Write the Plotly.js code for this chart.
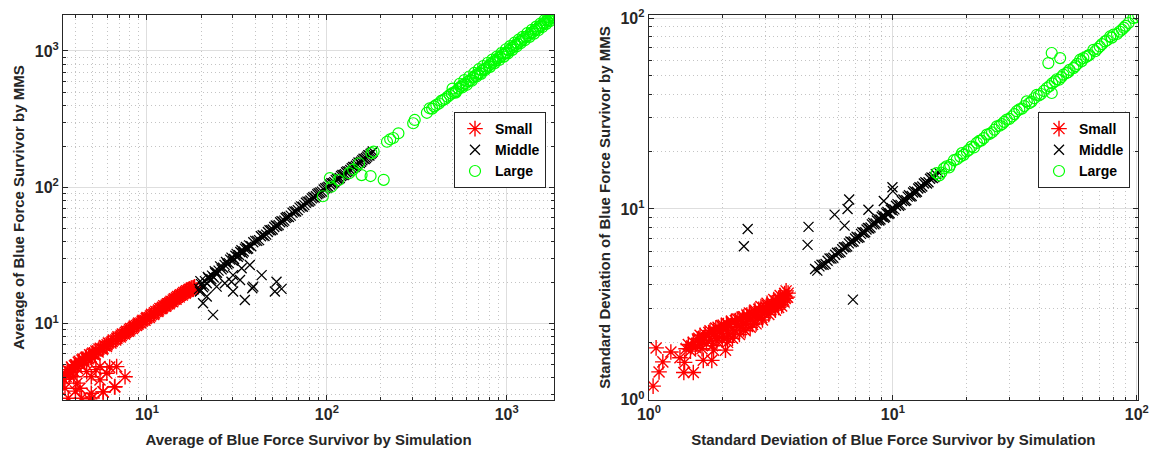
<!DOCTYPE html>
<html><head><meta charset="utf-8">
<script src="https://cdn.plot.ly/plotly-3.0.1.min.js"></script>
<style>html,body{margin:0;padding:0;background:#fff;}#chart{width:1151px;height:453px;}</style>
</head><body><div id="chart"></div>
<script>
// ---- Left panel: Average ----
const avgSmallX = [3.5,3.6,3.7,3.8,3.9,4.0,4.1,4.2,4.3,4.4,4.5,4.6,4.7,4.8,4.9,5.0,5.1,5.2,5.35,5.5,5.65,5.8,5.95,6.1,6.3,6.5,6.7,6.9,7.1,7.3,7.5,7.7,7.9,8.1,8.3,8.5,8.75,9.0,9.25,9.5,9.75,10.0,10.3,10.6,10.9,11.2,11.5,11.8,12.1,12.4,12.7,13.0,13.3,13.6,13.9,14.2,14.5,14.8,15.1,15.4,15.7,16.0,16.3,16.6,16.9,17.2,17.5,17.8,18.1,18.4,
  3.45,3.55,3.75,3.95,4.15,4.35,4.55,4.75,4.95,5.15,5.4,5.7,6.0,6.4,6.8,7.2,7.6,8.0,8.4,8.9,9.4,9.9,10.45,11.0,11.6,12.2,12.8,13.4,14.0,14.6,15.2,15.8,16.4,17.0,17.6,18.2,
  3.5,3.65,4.24,4.33,4.8,4.9,5.71,5.48,4.9,4.62,5.98,6.63,7.55,6.78,5.48,3.91,4.08,3.45,4.0,5.2,6.2,6.6,5.7,4.95];
const avgSmallY = [4.3,4.6,4.2,4.8,4.5,5.0,4.7,5.3,5.0,5.5,5.2,5.7,5.5,5.9,5.7,6.1,5.9,6.3,6.2,6.6,6.5,6.9,6.8,7.2,7.2,7.6,7.6,8.0,8.0,8.4,8.4,8.8,8.8,9.2,9.2,9.6,9.7,10.1,10.1,10.6,10.6,11.1,11.1,11.7,11.7,12.3,12.3,12.9,12.9,13.5,13.4,14.0,14.0,14.6,14.5,15.2,15.1,15.8,15.7,16.3,16.2,16.9,16.7,17.4,17.2,17.9,17.6,18.3,18.0,18.6,
  3.9,4.1,4.4,4.9,5.2,5.4,5.6,5.6,6.0,6.0,6.5,6.6,7.0,7.4,7.8,8.2,8.6,9.0,9.4,9.9,10.4,10.9,11.4,12.0,12.6,13.2,13.7,14.3,14.9,15.5,16.1,16.6,17.1,17.6,18.2,18.4,
  3.36,2.84,3.36,2.84,2.75,3.09,3.16,3.87,4.08,4.45,4.33,3.45,4.08,4.84,4.84,4.08,3.66,3.9,3.2,4.6,4.8,3.43,3.16,2.85];
const avgMiddleX = [19.5,20,20.5,21,21.5,22,22.5,23,23.5,24,25,26,27,28,29,30,31,32,33,34,35,36,37,38,40,42,44,46,48,50,52,54,56,58,60,63,66,69,72,75,78,81,84,87,90,94,98,102,106,110,114,118,122,126,130,135,140,145,150,155,160,165,170,175,180,
  19.8,20.8,21.8,22.8,23.8,24.5,25.5,26.5,27.5,28.5,29.5,30.5,31.5,32.5,33.5,34.5,35.5,36.5,39,41,43,45,47,49,51,53,55,57,59,61.5,64.5,67.5,70.5,73.5,76.5,79.5,82.5,85.5,88.5,92,96,100,104,108,112,116,120,124,128,132.5,137.5,142.5,147.5,152.5,157.5,162.5,167.5,172.5,177.5,
  23.3,20.5,21.5,19.7,24.4,30.1,29.5,30.1,33.6,37.3,35,39,38.5,43.4,52.5,51.4,56,32.9,27.1];
const avgMiddleY = [18.0,19.5,18.5,20.5,19.8,21.5,20.8,22.5,21.8,23.5,24.5,25.0,27.0,27.2,29.5,29.0,31.5,31.0,33.5,33.0,35.5,35.2,37.5,37.0,40.5,41.0,44.5,45.0,48.5,49.0,52.5,52.8,56.5,57.0,60.5,62.0,66.5,68.0,72.5,74.0,78.5,80.0,84.5,86.0,90.5,93.0,98.5,101,107,109,115,117,123,125,131,134,141,144,152,154,162,164,172,176,183,
  20.5,19.0,22.0,21.2,24.2,23.6,26.3,25.7,28.3,27.8,30.5,29.8,32.5,31.8,34.5,33.8,36.5,35.6,39.5,40.5,43.8,44.0,47.0,48.5,51.2,52.0,55.5,55.8,59.5,60.5,65.0,66.5,71.0,72.0,77.0,78.5,83.0,84.0,89.0,91.5,96.5,99.5,105,107,113,115,121,123,129,131,138,141,148,151,158,161,168,171,179,
  11.6,14.1,15.8,17.2,18.7,17.2,20.3,22.7,25.5,26.9,14.9,18.7,18.2,22.7,20.3,17.2,18.0,20.9,19.8];
const avgLargeX = [95,104,106,116,133,140,151,177,182,216,225,234,250,302,308,360,373,385,395,406,420,432,443,455,470,482,495,510,525,540,555,572,590,610,631,650,670,690,710,730,750,771,795,820,845,870,895,920,950,980,1000,1030,1060,1090,1120,1150,1180,1210,1240,1280,1320,1360,1400,1440,1480,1520,1560,1600,1640,1680,1720,1760,1800,1840,
  500,520,548,565,582,600,620,640,660,680,700,720,740,760,785,808,832,858,882,908,935,965,990,1015,1045,1075,1105,1135,1165,1195,1225,1260,1300,1340,1380,1420,1460,1500,1540,1580,1620,1660,1700,1740,1780,1820,1850,
  156,175,207];
const avgLargeY = [86,117,101,113,127,135,150,178,183,216,225,230,249,295,312,352,380,378,392,402,412,430,437,445,462,476,488,498,508,530,548,564,578,600,612,640,660,680,690,720,738,748,780,805,835,850,885,900,940,965,975,1010,1050,1070,1109,1130,1170,1190,1230,1270,1300,1350,1380,1430,1460,1510,1540,1590,1620,1670,1700,1750,1790,1860,
  530,495,575,540,612,565,650,605,690,650,735,680,775,725,820,765,865,815,910,860,965,910,1030,960,1085,1020,1150,1080,1210,1140,1270,1200,1350,1270,1430,1340,1510,1420,1590,1500,1680,1580,1760,1660,1830,1760,1860,
  123,121,113.5];

// ---- Right panel: Standard deviation ----
const sdSmallX = [1.42,1.45,1.48,1.52,1.55,1.58,1.62,1.62,1.66,1.70,1.72,1.75,1.78,1.80,1.85,1.88,1.90,1.95,1.98,2.00,2.05,2.08,2.10,2.12,2.15,2.18,2.20,2.25,2.28,2.30,2.35,2.38,2.40,2.45,2.48,2.50,2.55,2.58,2.60,2.65,2.70,2.72,2.75,2.80,2.85,2.88,2.92,2.98,3.02,3.05,3.10,3.15,3.20,3.25,3.30,3.35,3.40,3.45,3.50,3.55,3.60,3.65,3.70,3.72,3.58,3.40,
  1.5,1.6,1.68,1.76,1.84,1.92,2.02,2.1,2.18,2.26,2.34,2.42,2.52,2.62,2.72,2.82,2.94,3.06,3.18,3.3,3.45,3.6,1.65,1.82,2.0,2.22,2.44,2.66,2.9,3.14,3.38,3.62,
  1.04,1.07,1.10,1.14,1.23,1.34,1.40,1.39,1.52,1.67,1.81,1.84,2.06,1.90,2.09];
const sdSmallY = [1.85,1.95,1.80,2.00,1.88,2.08,1.95,2.18,2.05,2.22,1.98,2.15,2.30,2.05,2.22,2.38,2.10,2.30,2.45,2.15,2.35,2.52,2.00,2.22,2.42,2.58,2.10,2.30,2.50,2.65,2.20,2.40,2.58,2.72,2.30,2.50,2.68,2.85,2.40,2.60,2.78,2.95,2.50,2.70,2.90,3.08,2.62,2.85,3.05,3.20,2.80,3.00,3.22,3.35,2.95,3.15,3.40,3.52,3.10,3.35,3.60,3.72,3.45,3.62,3.25,3.05,
  1.92,2.1,2.12,2.25,2.3,2.4,2.45,2.48,2.55,2.6,2.65,2.7,2.78,2.82,2.88,2.98,3.02,3.12,3.18,3.28,3.35,3.5,1.85,1.92,2.05,2.2,2.35,2.48,2.7,2.9,3.15,3.4,
  1.18,1.87,1.40,1.58,1.78,1.66,1.57,1.39,1.39,1.61,1.61,1.82,1.82,2.03,2.11];
const sdMiddleX = [4.8,5.0,5.2,5.4,5.6,5.8,6.0,6.2,6.4,6.6,6.8,7.0,7.2,7.4,7.6,7.8,8.0,8.2,8.4,8.6,8.8,9.0,9.2,9.4,9.6,9.8,10.0,10.3,10.6,10.9,11.2,11.5,11.8,12.1,12.4,12.7,13.0,13.4,13.8,14.2,14.6,15.0,15.5,
  4.9,5.1,5.3,5.5,5.7,5.9,6.1,6.3,6.5,6.7,6.9,7.1,7.3,7.5,7.7,7.9,8.1,8.3,8.5,8.7,8.9,9.1,9.3,9.5,9.7,9.9,10.15,10.45,10.75,11.05,11.35,11.65,11.95,12.25,12.55,12.85,13.2,13.6,14.0,14.4,14.8,
  2.54,2.45,4.51,4.47,5.77,6.34,6.62,6.52,7.94,9.18,9.96,10.0,6.86];
const sdMiddleY = [4.85,5.0,5.1,5.35,5.5,5.75,5.9,6.15,6.3,6.6,6.7,7.0,7.05,7.4,7.5,7.8,7.9,8.3,8.3,8.7,8.7,9.1,9.0,9.5,9.4,9.9,9.8,10.4,10.4,11.0,11.0,11.6,11.6,12.2,12.2,12.8,12.9,13.6,13.6,14.4,14.5,15.2,15.4,
  4.75,5.1,5.15,5.5,5.55,5.9,5.95,6.3,6.35,6.75,6.75,7.15,7.1,7.55,7.55,7.95,8.0,8.45,8.4,8.85,8.8,9.25,9.1,9.65,9.5,10.1,9.95,10.6,10.5,11.2,11.1,11.8,11.7,12.4,12.3,13.0,13.1,13.8,13.8,14.6,14.7,
  7.85,6.37,8.05,6.48,9.34,8.18,11.2,10.0,9.9,11.0,13.0,12.4,3.35];
const sdLargeX = [15.1,15.8,16.6,17.2,17.8,18.9,19.5,20.1,21.0,22.1,23.0,24.3,25.5,26.7,28.0,29.3,30.8,32.2,33.8,35.4,37.0,38.9,40.5,42.8,44.8,45.0,46.2,48.0,43.4,44.8,48.5,50.0,51.6,53.0,55.0,57.0,58.6,60.4,62.0,64.0,66.4,69.0,72.0,74.1,77.8,80.2,83.0,86.9,90.0,92.5,96.9,99.0,101.4,
  15.5,16.2,17.0,18.3,19.2,20.5,21.5,22.6,23.6,24.9,26.1,27.4,28.6,30.0,31.5,33.0,34.6,36.2,38.0,39.7,41.6,43.9,47.0,49.0,52.3,56.0,59.5,63.0,67.5,70.5,75.5,79.0,85.0,88.5];
const sdLargeY = [15.4,15.5,16.7,17.0,18.0,18.8,19.2,20.0,21.2,22.2,22.8,24.5,25.2,27.1,27.8,29.4,30.5,32.5,33.5,36.6,36.5,39.6,40.0,43.0,40.5,45.5,46.6,47.5,58.1,65.6,61.7,50.5,51.5,53.5,54.7,57.5,60.5,61.7,62.5,64.0,68.2,69.0,73.0,75.4,80.1,81.8,82.5,86.9,91.0,94.2,100,101,104,
  15.0,16.3,16.5,18.2,19.6,20.4,21.0,22.7,23.5,24.7,26.0,27.3,28.6,29.6,31.4,33.2,34.6,35.8,38.0,39.3,41.5,44.0,47.8,49.0,52.0,56.0,59.5,63.5,67.0,71.0,76.5,79.0,85.0,89.0];

const seriesNames = ['Small','Middle','Large'];
// tick labels
const avgTickVals = [10, 100, 1000];
const avgTickText = ['10<sup>1</sup>', '10<sup>2</sup>', '10<sup>3</sup>'];
const sdTickVals = [1, 10, 100];
const sdTickText = ['10<sup>0</sup>', '10<sup>1</sup>', '10<sup>2</sup>'];

const FONT = 'Liberation Sans, Arial, Helvetica, sans-serif';
const AXC = '#262626';
const mk = {
  Small: {symbol:'asterisk-open', size:13, color:'#ff0000', line:{color:'#ff0000', width:1.4}},
  Middle: {symbol:'x-thin-open', size:10, color:'#000000', line:{color:'#000000', width:1.3}},
  Large: {symbol:'circle-open', size:11, color:'#00ff00', line:{color:'#00ff00', width:1.2}}
};
function tr(x, y, name, xa, ya, leg) {
  return {type:'scatter', mode:'markers', x:x, y:y, name:name, xaxis:xa, yaxis:ya, legend:leg,
    marker:mk[name], hoverinfo:'skip'};
}
const data = [
  tr(avgSmallX, avgSmallY, seriesNames[0], 'x', 'y', 'legend'),
  tr(avgMiddleX, avgMiddleY, seriesNames[1], 'x', 'y', 'legend'),
  tr(avgLargeX, avgLargeY, seriesNames[2], 'x', 'y', 'legend'),
  tr(sdSmallX, sdSmallY, seriesNames[0], 'x2', 'y2', 'legend2'),
  tr(sdMiddleX, sdMiddleY, seriesNames[1], 'x2', 'y2', 'legend2'),
  tr(sdLargeX, sdLargeY, seriesNames[2], 'x2', 'y2', 'legend2')
];

function axis(range, domain, title, anchor, standoff, tv, tt) {
  return {
    type:'log', range:range, domain:domain, anchor:anchor,
    tickmode:'array', tickvals:tv, ticktext:tt,
    showline:true, linecolor:AXC, linewidth:1, mirror:'ticks',
    ticks:'inside', ticklen:5, tickcolor:AXC,
    showgrid:true, gridcolor:'#dedede', gridwidth:1,
    zeroline:false, automargin:false,
    tickfont:{family:FONT, size:16, color:'#262626', weight:'bold'},
    title:{text:title, font:{family:FONT, size:15, color:'#262626', weight:'bold'}, standoff:standoff},
    minor:{dtick:'D1', ticks:'inside', ticklen:3, tickcolor:AXC, showgrid:true, gridcolor:'#c4c4c4', griddash:'1px,3px', gridwidth:1}
  };
}
const yd = [1-400/453, 1-15/453];
const layout = {
  width:1151, height:453, margin:{l:0, r:0, t:0, b:0},
  paper_bgcolor:'#ffffff', plot_bgcolor:'#ffffff',
  font:{family:FONT, color:'#262626'},
  xaxis: axis([0.533, 3.263], [63/1151, 554/1151], 'Average of Blue Force Survivor by Simulation', 'y', 12, avgTickVals, avgTickText),
  yaxis: axis([0.44, 3.264], yd, 'Average of Blue Force Survivor by MMS', 'x', 6, avgTickVals, avgTickText),
  xaxis2: axis([-0.001, 2.005], [648.7/1151, 1138/1151], 'Standard Deviation of Blue Force Survivor by Simulation', 'y2', 12, sdTickVals, sdTickText),
  yaxis2: axis([-0.001, 2.016], yd, 'Standard Deviation of Blue Force Survivor by MMS', 'x2', 6, sdTickVals, sdTickText),
  showlegend:true,
  legend:{x:454/1151, y:1-112/453, xanchor:'left', yanchor:'top', bgcolor:'#ffffff', bordercolor:AXC, borderwidth:1,
    font:{family:FONT, size:14, color:'#000', weight:'bold'}, itemwidth:30, tracegroupgap:0},
  legend2:{x:1038/1151, y:1-112/453, xanchor:'left', yanchor:'top', bgcolor:'#ffffff', bordercolor:AXC, borderwidth:1,
    font:{family:FONT, size:14, color:'#000', weight:'bold'}, itemwidth:30, tracegroupgap:0}
};
Plotly.newPlot('chart', data, layout, {displayModeBar:false, staticPlot:true});
</script></body></html>
